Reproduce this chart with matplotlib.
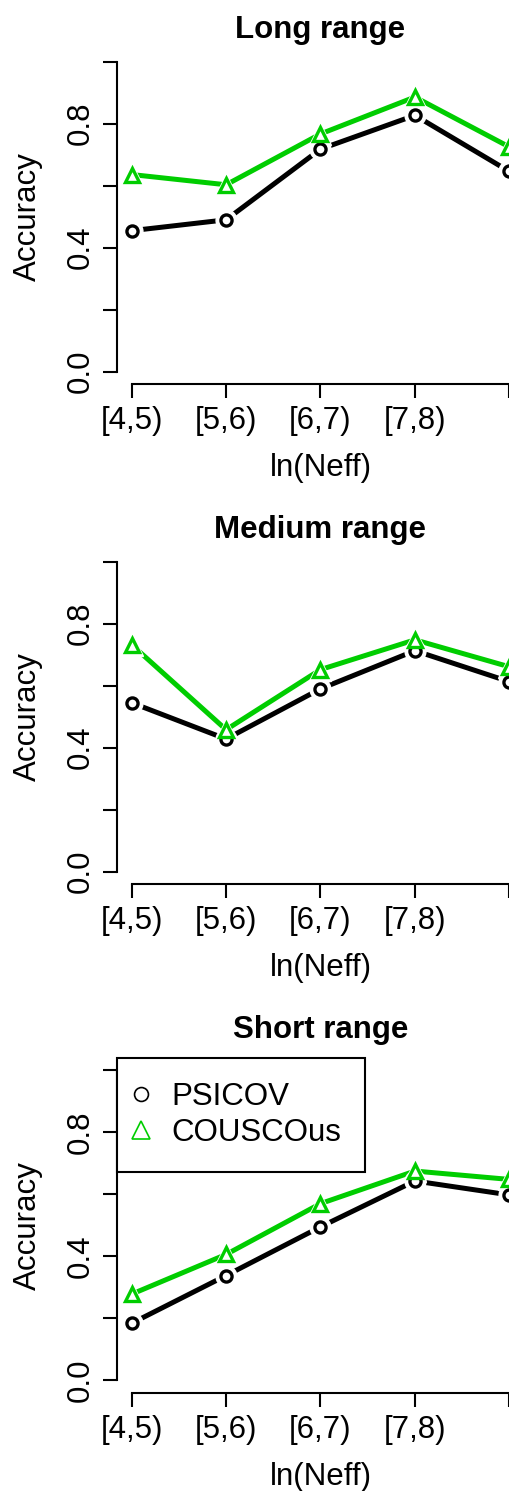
import matplotlib
matplotlib.use('Agg')
import matplotlib.pyplot as plt
from matplotlib.lines import Line2D

# data
categories = ['[4,5)', '[5,6)', '[6,7)', '[7,8)', '[8,9)']
# the fifth tick label is cut off in the reference, so it stays blank
x_ticklabels = ['[4,5)', '[5,6)', '[6,7)', '[7,8)', '']
panel_titles = ['Long range', 'Medium range', 'Short range']

long_psicov = [0.455, 0.490, 0.718, 0.827, 0.646]
long_cousco = [0.636, 0.603, 0.767, 0.886, 0.725]

medium_psicov = [0.545, 0.428, 0.590, 0.713, 0.613]
medium_cousco = [0.732, 0.458, 0.652, 0.748, 0.661]

short_psicov = [0.184, 0.338, 0.495, 0.643, 0.598]
short_cousco = [0.278, 0.406, 0.570, 0.675, 0.648]

y_ticks = [0.0, 0.2, 0.4, 0.6, 0.8, 1.0]
y_ticklabels = ['0.0', '', '0.4', '', '0.8', '']

GREEN = '#00CD00'
W, H = 510, 1491
FS = 22.5

plt.rcParams['font.family'] = ['Liberation Sans', 'DejaVu Sans']

fig = plt.figure(figsize=(W / 100, H / 100), dpi=100)

# pixel y of the plot-region bottom for each panel
bottoms_px = [384.1, 884.1, 1392.7]
title_offsets = [19, 19, 28]
left_px, right_px = 116.6, 524.4
height_px = 334.8

series = [(long_psicov, long_cousco), (medium_psicov, medium_cousco),
          (short_psicov, short_cousco)]

for i, (title, (psi, cou)) in enumerate(zip(panel_titles, series)):
    ax = fig.add_axes([left_px / W, 1 - bottoms_px[i] / H,
                       (right_px - left_px) / W, height_px / H])
    x = list(range(1, len(categories) + 1))

    for s in ['top', 'right']:
        ax.spines[s].set_visible(False)

    for yv, col in [(psi, 'black'), (cou, GREEN)]:
        ax.plot(x, yv, color=col, lw=3.6, solid_capstyle='butt', zorder=2)
    # white masks give the gaps of R's type="b"
    for yv, mk, ms in [(psi, 'o', 8.0), (cou, '^', 9.5)]:
        ax.plot(x, yv, ls='none', marker=mk, ms=ms + 7, mfc='white',
                mec='white', zorder=3)
    for yv, col, mk, ms in [(psi, 'black', 'o', 8.0), (cou, GREEN, '^', 9.5)]:
        ax.plot(x, yv, ls='none', marker=mk, ms=ms, mfc='white', mec=col,
                mew=2.4, zorder=4)

    ax.set_xlim(0.84, 5.16)
    ax.set_ylim(-0.04, 1.04)
    ax.set_xticks(x)
    ax.set_xticklabels(x_ticklabels, fontsize=FS)
    ax.set_yticks(y_ticks)
    ax.set_yticklabels(y_ticklabels, fontsize=FS, rotation=90, va='center')

    ax.spines['left'].set_bounds(0, 1)
    ax.spines['bottom'].set_bounds(1, 5)
    ax.spines['left'].set_linewidth(1.5)
    ax.spines['bottom'].set_linewidth(1.5)
    ax.tick_params(axis='both', length=10, width=1.5)
    ax.tick_params(axis='x', pad=6)
    ax.tick_params(axis='y', pad=5)
    ax.patch.set_visible(False)

    ax.annotate(title, xy=(0.5, 1), xycoords='axes fraction',
                xytext=(0, title_offsets[i]), textcoords='offset pixels',
                ha='center', va='center', fontsize=FS, fontweight='bold')
    ax.annotate('ln(Neff)', xy=(0.5, 0), xycoords='axes fraction',
                xytext=(0, -84), textcoords='offset pixels',
                ha='center', va='center', fontsize=FS)
    ax.annotate('Accuracy', xy=(0, 0.5), xycoords='axes fraction',
                xytext=(-89, 0), textcoords='offset pixels',
                ha='center', va='center', fontsize=FS, rotation=90)

    if i == 2:
        handles = [
            Line2D([], [], ls='none', marker='o', ms=10, mfc='none',
                   mec='black', mew=1.2, label='PSICOV'),
            Line2D([], [], ls='none', marker='^', ms=13, mfc='none',
                   mec=GREEN, mew=1.2, label='COUSCOus'),
        ]
        leg = ax.legend(handles=handles, loc='upper left',
                        bbox_to_anchor=(0, 1), borderaxespad=0,
                        fontsize=FS, frameon=True, fancybox=False,
                        framealpha=1, handlelength=0.01, handletextpad=0.95,
                        borderpad=0.78, labelspacing=0.18)
        leg.get_frame().set_edgecolor('black')
        leg.get_frame().set_linewidth(1.5)
        leg.set_zorder(5)

fig.savefig('out.png', dpi=100)
